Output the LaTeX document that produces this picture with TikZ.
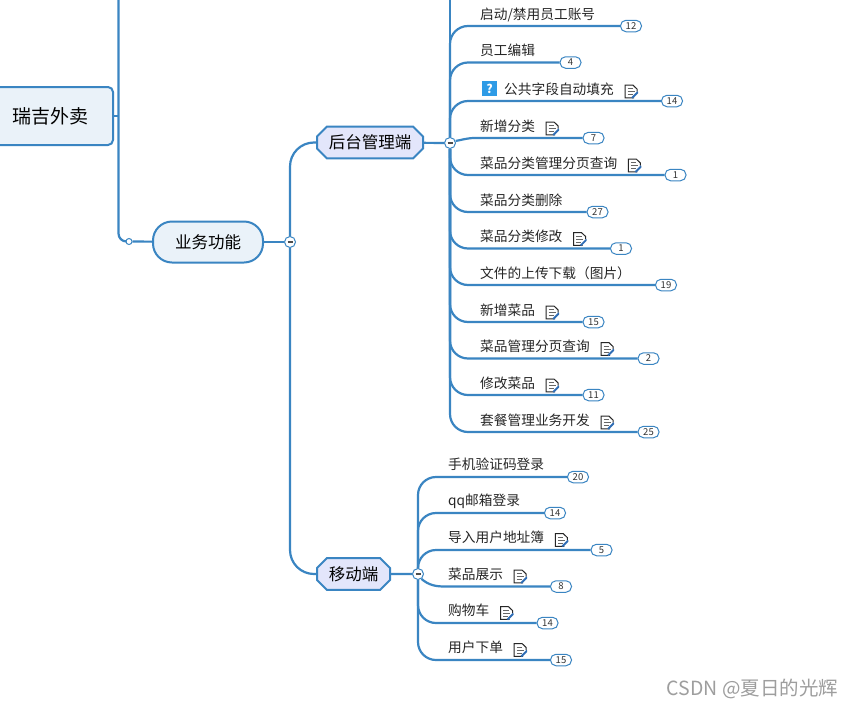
\documentclass[tikz,border=0pt]{standalone}
\usepackage{fontspec}
\setmainfont{Noto Sans CJK SC}
\usetikzlibrary{positioning, shapes.misc}
\definecolor{branchblue}{HTML}{3A85C2}
\definecolor{palefill}{HTML}{EAF2F9}
\definecolor{violetfill}{HTML}{E3E6FB}
\definecolor{helpblue}{HTML}{2E9BE6}
\definecolor{penblue}{HTML}{2F6DB5}
\tikzset{
    branch/.style={draw=branchblue, line width=2.2pt}, % every connector of the map
    leafbranch/.style={branch, rounded corners=18pt},
    rootnode/.style={draw=branchblue, line width=2pt, fill=palefill, rounded corners=5pt, minimum width=125pt, minimum height=58pt, font=\fontsize{19}{22}\selectfont},
    topicnode/.style={draw=branchblue, line width=2pt, fill=palefill, rounded corners=19pt, minimum width=110pt, minimum height=41pt, font=\fontsize{16.5}{19}\selectfont},
    subtopic/.style={chamfered rectangle, chamfered rectangle xsep=5pt, chamfered rectangle ysep=5pt, draw=branchblue, line width=2pt, fill=violetfill, minimum height=30pt, font=\fontsize{16.5}{19}\selectfont},
    leaflabel/.style={anchor=west, inner sep=0pt, text height=11pt, text depth=2pt, font=\fontsize{13.7}{15}\selectfont, text=black!85},
    countbadge/.style={draw=branchblue, line width=1pt, fill=white, rounded corners=5.5pt, minimum width=21pt, minimum height=11.5pt, inner sep=0pt, font=\fontsize{9.5}{10}\selectfont, text=black!80},
    hubdot/.style={circle, draw=branchblue, line width=1pt, fill=white, minimum size=11pt, inner sep=0pt,
        path picture={\draw[black!70, line width=1.1pt] ([xshift=-2.5pt]path picture bounding box.center) -- ([xshift=2.5pt]path picture bounding box.center);}},
    opendot/.style={circle, draw=branchblue, line width=1pt, fill=white, minimum size=6pt, inner sep=0pt},
    noteicon/.style={inner sep=0pt, outer sep=0pt, minimum width=14pt, minimum height=14pt, yshift=-2pt,
        path picture={
            \draw[shift={(path picture bounding box.center)}, black!85, line width=1pt] (3,6.3) -- (-6,6.3) -- (-6,-6.3) -- (2,-6.3) -- (6,-2.5) -- (6,0);
            \draw[shift={(path picture bounding box.center)}, black!60, line width=1pt] (-3.5,-3) -- (2,-3) (-3.5,0) -- (3.5,0) (-3.5,3) -- (1.5,3);
            \draw[shift={(path picture bounding box.center)}, penblue, line width=1.9pt] (1,6.5) -- (7,.5);
        }},
    helpicon/.style={fill=helpblue, minimum size=15pt, inner sep=0pt, text=white, font=\fontsize{12}{12}\selectfont\bfseries},
    watermark/.style={anchor=east, inner sep=0pt, text=black!38, font=\fontsize{19.5}{21}\selectfont},
}

\begin{document}
\begin{tikzpicture}[x=1pt, y=-1pt]
    \clip (0,0) rectangle (853,707);
    \fill[white] (0,0) rectangle (853,707);

    % Upper levels
    \coordinate (toptop) at (118.5,-3);
    \coordinate (backtop) at (450,-3);
    \node[rootnode] (root) at (50.5,116) {瑞吉外卖};
    \node[opendot] (busdot) at (129,241.5) {};
    \node[topicnode] (business) at (208,242) {业务功能};
    \node[hubdot] (bushub) at (290,242) {};
    \node[subtopic, minimum width=106pt] (backend) at (370,142.5) {后台管理端};
    \node[subtopic, minimum width=73pt] (mobile) at (353.5,574) {移动端};
    \node[hubdot] (backhub) at (450,143) {};
    \node[hubdot] (mobhub) at (418,574) {};

    \draw[branch] (root.east) -- (root.east -| toptop);
    \draw[branch, rounded corners=8pt] (toptop) |- (busdot);
    \draw[branch] (busdot) -- (business);
    \draw[branch] (business) -- (bushub);
    \draw[branch, rounded corners=24pt] (bushub) |- (backend);
    \draw[branch, rounded corners=24pt] (bushub) |- (mobile);
    \draw[branch] (backend) -- (backhub);
    \draw[branch] (mobile) -- (mobhub);
    \draw[branch] (backhub) -- (backtop);

    % Back office leaves
    \foreach \n/\ly/\lx/\bx/\cnt/\txt in {
        1/26/480/631/12/{启动/禁用员工账号},
        2/62.5/480/570.5/4/员工编辑,
        3/101/504/672/14/公共字段自动填充,
        4/138/480/593.5/7/新增分类,
        5/175/480/675.5/1/菜品分类管理分页查询,
        6/212/480/597.5/27/菜品分类删除,
        7/248.5/480/621/1/菜品分类修改,
        8/285/480/666/19/文件的上传下载（图片）,
        9/322/480/593.5/15/新增菜品,
        10/358.5/480/648.5/2/菜品管理分页查询,
        11/395/480/593.5/11/修改菜品,
        12/432/480/648.5/25/套餐管理业务开发}
    {
        \node[leaflabel] (back\n) at (\lx,\ly-11.5) {\txt};
        \node[countbadge] (backc\n) at (\bx,\ly) {\cnt};
        \ifnum\n=4 \else \draw[leafbranch] (backhub) |- (backc\n); \fi
    }
    \draw[branch] (backhub.20) to[out=10, in=180] (475,138) -- (backc4);
    \node[helpicon] (help3) at (489.5,88.5) {?};
    \foreach \n in {3,4,5,7,9,10,11,12}
        \node[noteicon, right=10pt of back\n] (backn\n) {};

    % Mobile leaves
    \foreach \n/\ly/\bx/\cnt/\txt in {
        1/477/578/20/手机验证码登录,
        2/513/555/14/qq邮箱登录,
        3/550/601.5/5/导入用户地址簿,
        4/586.5/561/8/菜品展示,
        5/623/547.5/14/购物车,
        6/660/561/15/用户下单}
    {
        \node[leaflabel] (mob\n) at (448,\ly-12) {\txt};
        \node[countbadge] (mobc\n) at (\bx,\ly) {\cnt};
        \ifnum\n=4 \else \draw[leafbranch] (mobhub) |- (mobc\n); \fi
    }
    \draw[branch] (mobhub.-55) to[out=-40, in=180] (445,586.5) -- (mobc4);
    \foreach \n in {3,4,5,6}
        \node[noteicon, right=10pt of mob\n] (mobn\n) {};

    \node[watermark] (credit) at (838.5,689) {CSDN @夏日的光辉};
\end{tikzpicture}
\end{document}
